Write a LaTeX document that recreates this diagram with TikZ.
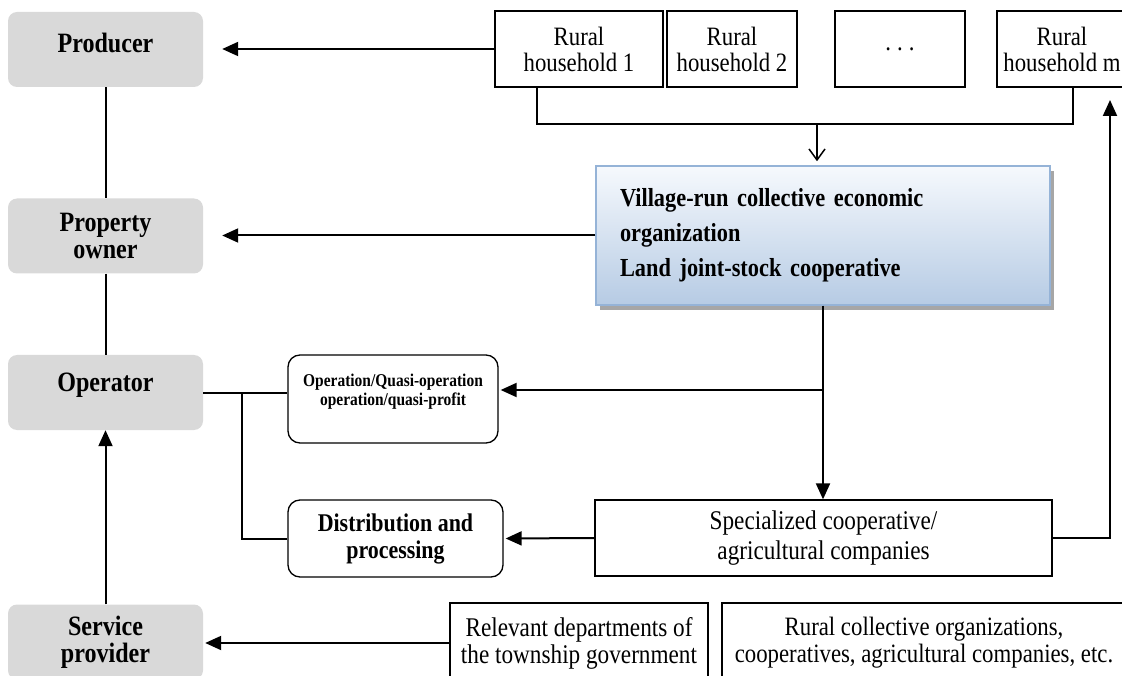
\documentclass[tikz,border=0pt]{standalone}
\usepackage{fontspec}
\setmainfont[FakeStretch=0.86]{Liberation Serif}
\usetikzlibrary{arrows.meta,calc,shadows}
\definecolor{rolegray}{RGB}{217,217,217}
\definecolor{vtop}{RGB}{246,249,253}
\definecolor{vbot}{RGB}{182,203,228}
\definecolor{vborder}{RGB}{149,179,215}
\newcommand\liftt[2]{\raisebox{#1}[\height][\depth]{#2}}
\begin{document}
\begin{tikzpicture}[x=1pt,y=-1pt,
  role/.style={fill=rolegray, rounded corners=9pt, minimum width=195pt, minimum height=75pt, inner sep=0pt, align=center, font=\fontsize{28}{27}\selectfont\bfseries},
  plain/.style={draw, line width=1.3pt, inner sep=0pt, align=center, font=\fontsize{26.5}{26}\selectfont},
  roundbox/.style={draw, line width=1.3pt, rounded corners=12pt, inner sep=0pt, align=center},
  arr/.style={line width=2pt, -{Triangle[length=16pt,width=14pt]}},
  ln/.style={line width=2pt}]
\clip (0,0) rectangle (1122,676);
\useasboundingbox (0,0) rectangle (1122,676);

% left roles
\node[role] (prod) at (105.5,49.5) {\liftt{7pt}{Producer}};
\node[role] (prop) at (105.5,236) {Property\\owner};
\node[role] (oper) at (105.5,392.5) {\liftt{7pt}{Operator}};
\node[role] (serv) at (105.5,642) {Service\\provider};

% households
\node[plain, minimum width=168pt, minimum height=76pt] (rh1) at (579,49) {Rural\\household 1};
\node[plain, minimum width=130pt, minimum height=76pt] (rh2) at (732,49) {Rural\\household 2};
\node[plain, minimum width=130pt, minimum height=76pt] (rhd) at (900,49) {.\hspace{6pt}.\hspace{6pt}.};
\node[plain, minimum width=130pt, minimum height=76pt] (rhm) at (1062,49) {Rural\\household m};

% village organization
\node[draw=vborder, line width=1.5pt, top color=vtop, bottom color=vbot,
      drop shadow={opacity=1, fill=black!35, shadow xshift=4pt, shadow yshift=-5pt},
      minimum width=454pt, minimum height=139pt, inner xsep=24pt, inner ysep=0pt,
      text width=406pt, align=left, font=\fontsize{26}{35}\selectfont\bfseries]
      (vil) at (823,235.5) {Village-run collective economic\\organization\\Land joint-stock cooperative};

% operation boxes
\node[roundbox, minimum width=210pt, minimum height=88pt, font=\fontsize{18}{22}\selectfont\bfseries]
      (opq) at (393,399) {\liftt{7pt}{\begin{tabular}{@{}c@{}}Operation/Quasi-operation\\[-3pt]operation/quasi-profit\end{tabular}}};
\node[roundbox, minimum width=215pt, minimum height=77pt, font=\fontsize{25.5}{27}\selectfont\bfseries]
      (dist) at (395.5,538.5) {Distribution and\\processing};

% specialized cooperative
\node[plain, minimum width=457pt, minimum height=76pt, font=\fontsize{27}{30}\selectfont]
      (spec) at (823.5,538) {Specialized cooperative/\\agricultural companies};

% bottom row
\node[plain, minimum width=258pt, minimum height=80pt, font=\fontsize{27}{27}\selectfont]
      (rel) at (579,643) {Relevant departments of\\the township government};
\node[plain, minimum width=404pt, minimum height=80pt, font=\fontsize{26.5}{27}\selectfont]
      (rco) at (924,643) {Rural collective organizations,\\cooperatives, agricultural companies, etc.};

% coordinates
\coordinate (brk) at (817,124);
\coordinate (br1) at (242,392.5);
\coordinate (br2) at (823,390);
\coordinate (rup) at (1110,100);

% left column
\draw[ln] (prod.south) -- (prop.north);
\draw[ln] (prop.south) -- (oper.north);
\draw[arr] (serv.north) -- (oper.south);

% household connectors
\draw[arr, shorten >=19pt] (rh1.west) -- (rh1.west -| prod.east);
\draw[ln] ([xshift=-42pt]rh1.south) |- (brk) -| ([xshift=11pt]rhm.south);
\draw[line width=1.5pt, -{Straight Barb[length=11pt,width=16pt]}, shorten >=4pt] (brk) -- (brk |- vil.north);

% village connectors
\draw[arr, shorten >=19pt] (vil.west) -- (vil.west -| prop.east);
\draw[arr] (vil.south) -- (vil.south |- spec.north);
\draw[arr, shorten >=2pt] (br2) -- (br2 -| opq.east);

% operator connectors
\draw[ln] (oper.east) -- (oper.east -| opq.west);
\draw[ln] (br1) |- (dist.west);

% specialized connectors
\draw[arr, shorten >=2pt] (spec.west) -- (dist.east);
\draw[arr] (spec.east) -| (rup);

% bottom
\draw[arr, shorten >=2pt] (rel.west) -- (rel.west -| serv.east);
\end{tikzpicture}
\end{document}
